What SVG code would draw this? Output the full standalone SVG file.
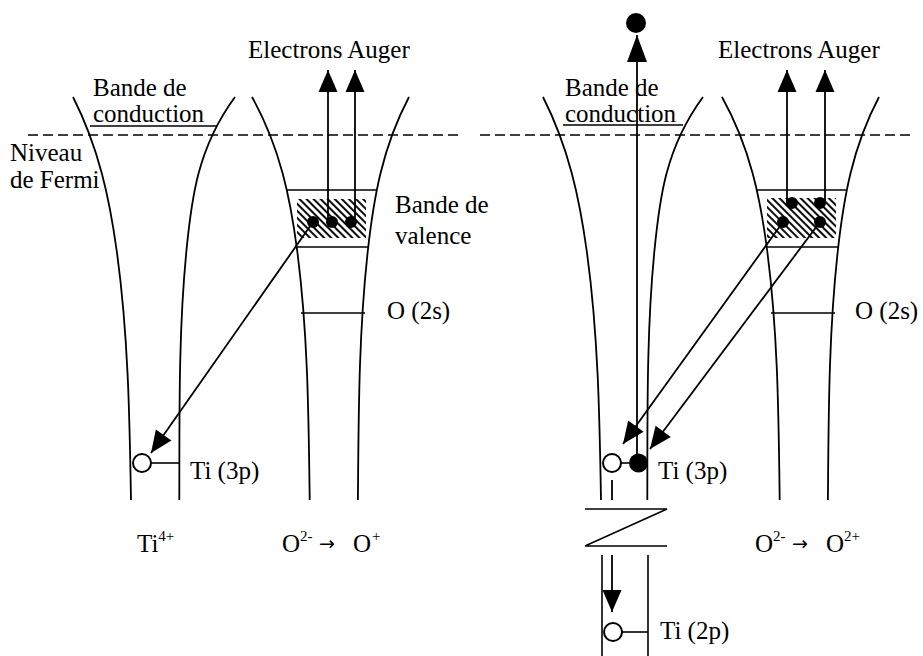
<svg xmlns="http://www.w3.org/2000/svg" width="923" height="656" viewBox="0 0 923 656">
<style>
.t{font-family:"Liberation Serif","Times New Roman",serif;font-size:25px;fill:#000}
.s{font-size:15px}
.ar{font-family:"DejaVu Sans",sans-serif;font-size:19px}
.c{fill:none;stroke:#000;stroke-width:1.8}
.l{stroke:#000;stroke-width:1.6;fill:none}
.a{stroke:#000;stroke-width:1.8;fill:none}
.d{stroke:#000;stroke-width:1.6;stroke-dasharray:10 5;fill:none}
.open{fill:#fff;stroke:#000;stroke-width:2}
</style>
<defs>
<marker id="ah" markerUnits="userSpaceOnUse" viewBox="-23 -10 24 20" refX="0" refY="0" markerWidth="24" markerHeight="20" orient="auto"><path d="M0,0 L-22,-9.5 L-22,9.5 Z" fill="#000"/></marker>
<marker id="ahL" markerUnits="userSpaceOnUse" viewBox="-28 -11 29 22" refX="0" refY="0" markerWidth="29" markerHeight="22" orient="auto"><path d="M0,0 L-27,-10 L-27,10 Z" fill="#000"/></marker>
<pattern id="hatch" patternUnits="userSpaceOnUse" width="5" height="5" patternTransform="rotate(-45)"><line x1="1" y1="0" x2="1" y2="5" stroke="#000" stroke-width="1.9"/></pattern>
</defs>

<g id="fermi">
<line class="d" x1="28" y1="135" x2="460" y2="135"/>
<line class="d" x1="480" y1="135" x2="913" y2="135"/>
</g>

<g id="left-ti-well">
<path class="c" d="M73,97 C98.9,148 109.5,199 116.6,250 C128.2,333 129.6,417 131,500"/>
<path class="c" d="M235,97 C197.4,148 191.5,199 186.5,250 C178.3,333 179.6,417 179.3,500"/>
<line class="l" x1="90" y1="126" x2="217" y2="126"/>
<text class="t" x="93" y="96">Bande de</text>
<text class="t" x="93" y="122">conduction</text>
</g>

<g id="left-o-well">
<path class="c" d="M252,97 C280.4,148 290.4,199 297.1,250 C308,333 308.6,417 309.7,500"/>
<path class="c" d="M409,97 C382,148 373.6,199 367.9,250 C358.6,333 358.6,417 357.9,500"/>
<rect x="297" y="199" width="69" height="39" fill="url(#hatch)"/>
<line class="l" x1="287" y1="190" x2="377" y2="190"/>
<line class="l" x1="297" y1="247" x2="368" y2="247"/>
<line class="l" x1="301" y1="313" x2="365" y2="313"/>
<circle cx="313" cy="222" r="6"/>
<circle cx="332" cy="222" r="6"/>
<circle cx="351" cy="222" r="6"/>
</g>

<g id="left-labels">
<text class="t" x="248" y="58">Electrons Auger</text>
<text class="t" x="10" y="161">Niveau</text>
<text class="t" x="10" y="188">de Fermi</text>
<text class="t" x="395" y="213">Bande de</text>
<text class="t" x="395" y="244">valence</text>
<text class="t" x="387" y="319">O (2s)</text>
<text class="t" x="190" y="479">Ti (3p)</text>
<text class="t" x="137" y="552">Ti<tspan class="s" dy="-11">4+</tspan></text>
<text class="t"><tspan x="282" y="552">O</tspan><tspan class="s" x="300" y="541">2-</tspan><tspan class="ar" x="319" y="550">→</tspan><tspan x="353" y="552">O</tspan><tspan class="s" x="372" y="541">+</tspan></text>
</g>

<g id="left-ti3p">
<line class="l" x1="151" y1="463" x2="180" y2="463"/>
<circle class="open" cx="142" cy="463" r="9"/>
</g>

<g id="right-ti-well">
<g transform="translate(470,0)">
<path class="c" d="M73,97 C98.9,148 109.5,199 116.6,250 C128.2,333 129.6,417 131,500"/>
<path class="c" d="M233,97 C195.4,148 189.5,199 184.5,250 C176.3,333 177.6,417 177.3,500"/>
</g>
<line class="l" x1="602" y1="555" x2="602" y2="656"/>
<line class="l" x1="648" y1="555" x2="648" y2="656"/>
<path class="l" d="M585,509 L667,509 L585,546 L667,546"/>
<line class="l" x1="563" y1="125" x2="683" y2="125"/>
<text class="t" x="565" y="96">Bande de</text>
<text class="t" x="565" y="122">conduction</text>
</g>

<g id="right-o-well">
<g transform="translate(470,0)">
<path class="c" d="M252,97 C280.4,148 290.4,199 297.1,250 C308,333 308.6,417 309.7,500"/>
<path class="c" d="M409,97 C382,148 373.6,199 367.9,250 C358.6,333 358.6,417 357.9,500"/>
</g>
<rect x="767" y="198" width="69" height="40" fill="url(#hatch)"/>
<line class="l" x1="757" y1="190" x2="847" y2="190"/>
<line class="l" x1="767" y1="247" x2="838" y2="247"/>
<line class="l" x1="771" y1="313" x2="835" y2="313"/>
<circle cx="792" cy="203" r="6"/>
<circle cx="820" cy="203" r="6"/>
<circle cx="783" cy="222" r="6"/>
<circle cx="820" cy="222" r="6"/>
</g>

<g id="right-labels">
<text class="t" x="718" y="58">Electrons Auger</text>
<text class="t" x="855" y="319">O (2s)</text>
<text class="t" x="658" y="479">Ti (3p)</text>
<text class="t" x="660" y="639">Ti (2p)</text>
<text class="t"><tspan x="755" y="552">O</tspan><tspan class="s" x="773" y="541">2-</tspan><tspan class="ar" x="792" y="550">→</tspan><tspan x="826" y="552">O</tspan><tspan class="s" x="844" y="541">2+</tspan></text>
</g>

<g id="right-ti3p">
<line class="l" x1="621" y1="463" x2="630" y2="463"/>
<circle class="open" cx="612" cy="463" r="9"/>
<circle cx="638.5" cy="463" r="9.5"/>
</g>

<g id="right-ti2p">
<line class="l" x1="622" y1="632" x2="648" y2="632"/>
<circle class="open" cx="613" cy="632" r="9"/>
</g>

<g id="ejected-electron">
<circle cx="636" cy="23" r="10"/>
</g>

<g id="connectors">
<line class="a" x1="328" y1="222" x2="328" y2="70" marker-end="url(#ah)"/>
<line class="a" x1="355" y1="222" x2="355" y2="70" marker-end="url(#ah)"/>
<line class="a" x1="313" y1="222" x2="151" y2="453" marker-end="url(#ah)"/>
<line class="a" x1="787" y1="203" x2="787" y2="70" marker-end="url(#ah)"/>
<line class="a" x1="825" y1="203" x2="825" y2="70" marker-end="url(#ah)"/>
<line class="a" x1="783" y1="222" x2="623" y2="444" marker-end="url(#ah)"/>
<line class="a" x1="820" y1="222" x2="650" y2="449" marker-end="url(#ah)"/>
<line class="a" x1="637" y1="454" x2="637" y2="35" marker-end="url(#ahL)"/>
<line class="a" x1="612" y1="480" x2="612" y2="500"/>
<line class="a" x1="612" y1="555" x2="612" y2="612" marker-end="url(#ah)"/>
</g>
</svg>
